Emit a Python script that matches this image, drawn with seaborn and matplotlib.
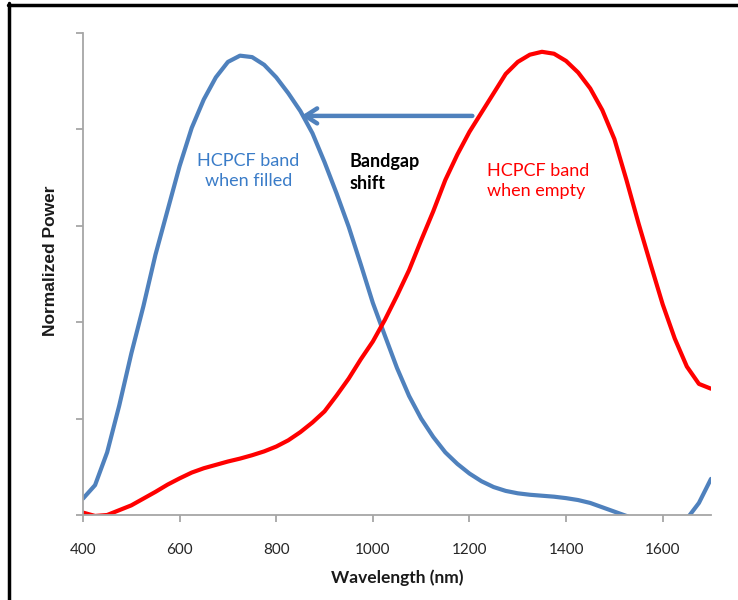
import numpy as np
import pandas as pd
import matplotlib
matplotlib.use("Agg")
import matplotlib.pyplot as plt
from matplotlib.lines import Line2D
import seaborn as sns

wavelength = [400, 425, 450, 475, 500, 525, 550, 575, 600, 625, 650, 675, 700,
              725, 750, 775, 800, 825, 850, 875, 900, 925, 950, 975, 1000,
              1025, 1050, 1075, 1100, 1125, 1150, 1175, 1200, 1225, 1250, 1275,
              1300, 1325, 1350, 1375, 1400, 1425, 1450, 1475, 1500, 1525, 1550,
              1575, 1600, 1625, 1650, 1675, 1700]
filled = [0.034, 0.062, 0.130, 0.227, 0.335, 0.433, 0.540, 0.632, 0.724, 0.803,
          0.862, 0.908, 0.940, 0.953, 0.950, 0.934, 0.908, 0.875, 0.838, 0.792,
          0.732, 0.667, 0.598, 0.520, 0.440, 0.372, 0.305, 0.247, 0.200, 0.162,
          0.130, 0.106, 0.086, 0.070, 0.058, 0.050, 0.045, 0.042, 0.040, 0.038,
          0.035, 0.031, 0.025, 0.016, 0.007, -0.002, -0.012, -0.022, -0.028,
          -0.025, -0.008, 0.025, 0.075]
empty = [0.005, -0.002, 0.000, 0.010, 0.020, 0.034, 0.048, 0.063, 0.076, 0.088,
         0.097, 0.104, 0.111, 0.117, 0.124, 0.132, 0.142, 0.155, 0.172, 0.192,
         0.215, 0.248, 0.283, 0.323, 0.360, 0.405, 0.455, 0.508, 0.570, 0.630,
         0.695, 0.748, 0.795, 0.835, 0.875, 0.915, 0.940, 0.955, 0.961, 0.957,
         0.942, 0.918, 0.885, 0.840, 0.780, 0.695, 0.605, 0.520, 0.437, 0.366,
         0.308, 0.272, 0.262]
series_names = ["filled", "empty"]
x_ticks = [400, 600, 800, 1000, 1200, 1400, 1600]
y_ticks = [0, 0.2, 0.4, 0.6, 0.8, 1.0]

df = pd.DataFrame({
    "Wavelength": wavelength * 2,
    "Power": filled + empty,
    "Series": [series_names[0]] * len(wavelength) + [series_names[1]] * len(wavelength),
})

sns.set_theme(style="white")
plt.rcParams["font.family"] = ["Lato", "DejaVu Sans"]

fig = plt.figure(figsize=(7.38, 6.0), dpi=100)
ax = fig.add_axes([83 / 738, 1 - 515 / 600, (711 - 83) / 738, (515 - 33) / 600])

blue = "#4f81bd"
red = "#ff0000"
sns.lineplot(data=df, x="Wavelength", y="Power", hue="Series",
             palette={"filled": blue, "empty": red}, linewidth=3,
             legend=False, ax=ax, sort=True)
for ln in ax.lines:
    ln.set_solid_joinstyle("round")
    ln.set_solid_capstyle("round")

ax.set_xlim(400, 1700)
ax.set_ylim(0, 1.0)
ax.set_xticks(x_ticks)
ax.set_xticklabels([str(t) for t in x_ticks], fontsize=11, color="#262626")
ax.set_yticks(y_ticks)
ax.set_yticklabels([])
for s in ["top", "right"]:
    ax.spines[s].set_visible(False)
for s in ["left", "bottom"]:
    ax.spines[s].set_color("#a6a6a6")
    ax.spines[s].set_linewidth(1.3)
ax.tick_params(axis="both", which="major", direction="out", length=5,
               width=1.3, color="#a6a6a6", left=True, bottom=True)
ax.tick_params(axis="x", pad=15)

ax.set_xlabel("Wavelength (nm)", fontsize=12.5, fontweight="bold", color="#1a1a1a")
ax.xaxis.set_label_coords(0.5, -0.112)
ax.set_ylabel("Normalized Power", fontsize=12.5, fontweight="bold",
              family="Liberation Sans", color="#1a1a1a")
ax.yaxis.set_label_coords(-0.04, 0.527)

ax.text(742, 0.714, "HCPCF band\nwhen filled", color="#3a7cc8", fontsize=13,
        ha="center", va="center", linespacing=1.35)
ax.text(952, 0.71, "Bandgap\nshift", color="black", fontsize=13,
        fontweight="bold", ha="left", va="center", linespacing=1.35)
ax.text(1237, 0.693, "HCPCF band\nwhen empty", color="#ff0000", fontsize=13,
        ha="left", va="center", linespacing=1.35)

ax.annotate("", xy=(852, 0.828), xytext=(1206, 0.828),
            arrowprops=dict(arrowstyle="->,head_length=0.7,head_width=0.45",
                            color=blue, lw=3.2, shrinkA=0, shrinkB=0))

fig.add_artist(Line2D([9 / 738, 9 / 738], [0, 1 - 3 / 600], transform=fig.transFigure,
                      color="black", lw=2.5))
fig.add_artist(Line2D([8 / 738, 1], [1 - 4.5 / 600, 1 - 4.5 / 600], transform=fig.transFigure,
                      color="black", lw=2.5))

fig.savefig("out.png", dpi=100)
